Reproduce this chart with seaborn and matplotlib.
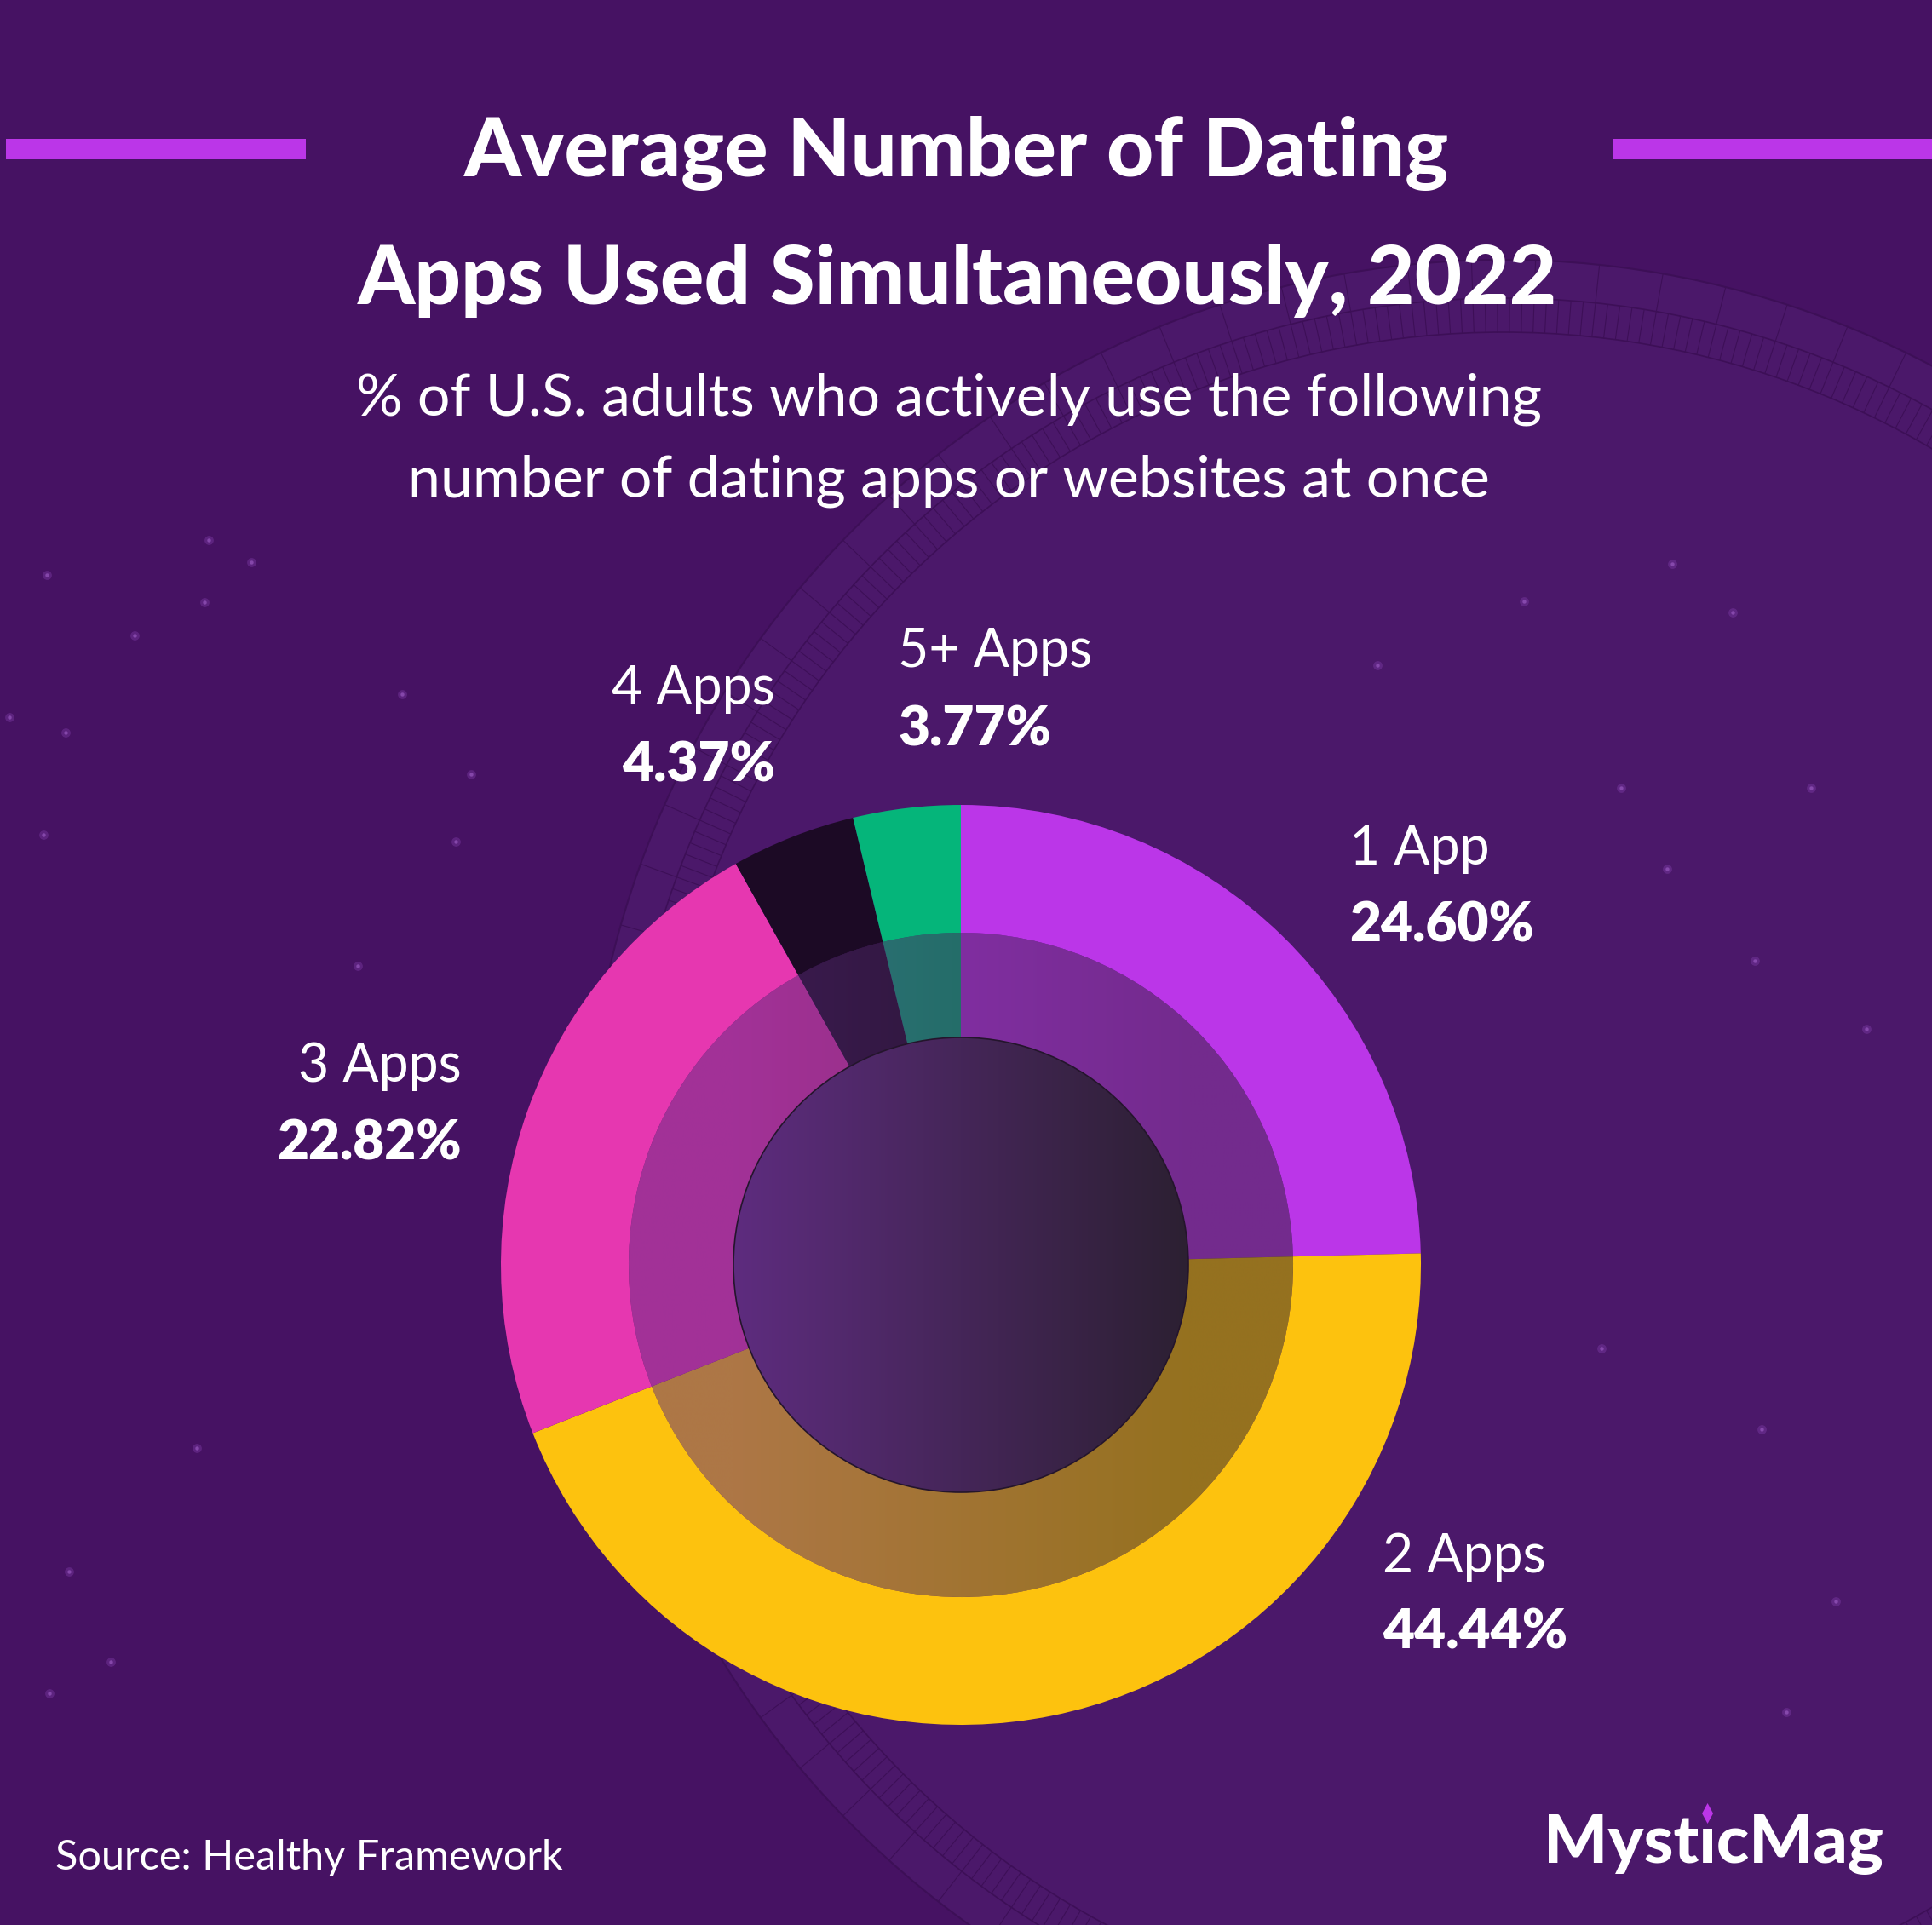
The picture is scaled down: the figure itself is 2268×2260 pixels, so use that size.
import numpy as np
import matplotlib
matplotlib.use("Agg")
import matplotlib.pyplot as plt
import seaborn as sns
from matplotlib.patches import Circle, Wedge, Rectangle, Polygon
from matplotlib.collections import LineCollection

# ---------------- data ----------------
categories = ["1 App", "2 Apps", "3 Apps", "4 Apps", "5+ Apps"]
values = [24.60, 44.44, 22.82, 4.37, 3.77]
value_labels = ["24.60%", "44.44%", "22.82%", "4.37%", "3.77%"]
slice_colors = ["#bb36e8", "#fdc20e", "#e637b0", "#1c0a25", "#05b57a"]

title_lines = ["Average Number of Dating", "Apps Used Simultaneously, 2022"]
subtitle_lines = ["% of U.S. adults who actively use the following",
                  "number of dating apps or websites at once"]
source_text = "Source: Healthy Framework"

# decorative star positions (image pixels)
star_x = [55, 295, 245, 240, 158, 472, 553, 77, 11, 51, 535, 420, 1789, 1963, 2034,
          2126, 2060, 2191, 1957, 2068, 2155, 2097, 81, 130, 58, 231, 1617, 1903, 1880]
star_y = [675, 660, 634, 707, 746, 815, 909, 860, 842, 980, 988, 1134, 706, 662, 719,
          925, 1128, 1208, 1020, 1678, 1880, 2010, 1845, 1951, 1988, 1700, 781, 925, 1583]

# ---------------- setup ----------------
W, H = 2268, 2260
BG = "#461263"
sns.set_theme(style="white")
plt.rcParams["font.family"] = ["Lato", "DejaVu Sans"]

fig = plt.figure(figsize=(W / 100, H / 100), dpi=100)
fig.patch.set_facecolor(BG)
ax = fig.add_axes([0, 0, 1, 1])
ax.set_facecolor(BG)
ax.set_xlim(0, W)
ax.set_ylim(0, H)
ax.set_aspect("equal")
ax.axis("off")


def Y(y):
    return H - y


# ---------------- decorative background circle ----------------
cxd, cyd, Rd = 1765, 1383, 1078
ax.add_patch(Circle((cxd, Y(cyd)), Rd, facecolor="#4b186a", edgecolor="#3d0f57",
                    lw=1.5, zorder=0))
for rr in (Rd - 45, Rd - 85):
    ax.add_patch(Circle((cxd, Y(cyd)), rr, facecolor="none", edgecolor="#3d0f57",
                        lw=1.2, zorder=0))
ang = np.deg2rad(np.arange(0, 360, 0.8))
segs = [[(cxd + (Rd - 85) * np.cos(a), Y(cyd) + (Rd - 85) * np.sin(a)),
         (cxd + (Rd - 45) * np.cos(a), Y(cyd) + (Rd - 45) * np.sin(a))] for a in ang]
ax.add_collection(LineCollection(segs, colors="#3d0f57", linewidths=0.8, zorder=0))
ang2 = np.deg2rad(np.arange(0, 360, 4))
segs2 = [[(cxd + (Rd - 45) * np.cos(a), Y(cyd) + (Rd - 45) * np.sin(a)),
          (cxd + Rd * np.cos(a), Y(cyd) + Rd * np.sin(a))] for a in ang2]
ax.add_collection(LineCollection(segs2, colors="#3d0f57", linewidths=0.8, zorder=0))

ax.scatter(star_x, [Y(v) for v in star_y], s=60, color="#8a45b5", alpha=0.35,
           linewidths=0, zorder=0.5)
ax.scatter(star_x, [Y(v) for v in star_y], s=10, color="#a060c8", alpha=0.6,
           linewidths=0, zorder=0.5)

# ---------------- donut ----------------
cx, cy = 1128, Y(1485)
R_out, R_mid, R_in = 540, 390, 267
ax.pie(values, colors=slice_colors, startangle=90, counterclock=False,
       radius=R_out, center=(cx, cy), frame=True,
       wedgeprops=dict(width=R_out - R_mid, linewidth=0))
ax.pie(values, colors=slice_colors, startangle=90, counterclock=False,
       radius=R_mid, center=(cx, cy), frame=True,
       wedgeprops=dict(width=R_mid - R_in, linewidth=0))

gx = np.linspace(cx - R_mid, cx + R_mid, 800)
c_left = np.array([94, 44, 127]) / 255
c_right = np.array([44, 32, 50]) / 255
t = np.clip((gx - (cx - R_in)) / (2 * R_in), 0, 1)
grad = c_left[None, :] * (1 - t[:, None]) + c_right[None, :] * t[:, None]
img = np.tile(grad[None, :, :], (2, 1, 1))
ext = [cx - R_mid, cx + R_mid, cy - R_mid, cy + R_mid]

band = Wedge((cx, cy), R_mid, 0, 360, width=R_mid - R_in, facecolor="none",
             edgecolor="none")
ax.add_patch(band)
im1 = ax.imshow(img, extent=ext, alpha=0.5, aspect="auto", zorder=3,
                interpolation="bilinear")
im1.set_clip_path(band)

disc = Circle((cx, cy), R_in, facecolor="none", edgecolor="none")
ax.add_patch(disc)
im2 = ax.imshow(img, extent=ext, aspect="auto", zorder=4, interpolation="bilinear")
im2.set_clip_path(disc)
ax.add_patch(Circle((cx, cy), R_in, facecolor="none", edgecolor="#24152c",
                    lw=1.2, zorder=5))

# ---------------- labels ----------------
label_pos = {
    "1 App": (1584, 1015, 1105, "left"),
    "2 Apps": (1623, 1846, 1935, "left"),
    "3 Apps": (542, 1270, 1361, "right"),
    "4 Apps": (910, 827, 917, "right"),
    "5+ Apps": (1054, 783, 875, "left"),
}
for cat, lab in zip(categories, value_labels):
    x, y1, y2, ha = label_pos[cat]
    ax.text(x, Y(y1), cat, color="white", fontsize=45, ha=ha, va="baseline",
            fontweight="normal", zorder=10)
    ax.text(x, Y(y2), lab, color="white", fontsize=46, ha=ha, va="baseline",
            fontweight="heavy", zorder=10)

# ---------------- titles ----------------
ax.text(1123, Y(207), title_lines[0], color="white", fontsize=69, ha="center",
        va="baseline", fontweight="black", zorder=10)
ax.text(1124, Y(357), title_lines[1], color="white", fontsize=69, ha="center",
        va="baseline", fontweight="black", zorder=10)
ax.text(1114, Y(487), subtitle_lines[0], color="white", fontsize=49, ha="center",
        va="baseline", zorder=10)
ax.text(1114, Y(583), subtitle_lines[1], color="white", fontsize=49, ha="center",
        va="baseline", zorder=10)

ax.add_patch(Rectangle((7, Y(187)), 352, 24, facecolor="#bb36e8", lw=0, zorder=2))
ax.add_patch(Rectangle((1894, Y(187)), 374, 24, facecolor="#bb36e8", lw=0, zorder=2))

# ---------------- footer ----------------
ax.text(65, Y(2195), source_text, color="white", fontsize=35, ha="left",
        va="baseline", zorder=10)

logo_x, logo_base, logo_fs = 1812, 2187, 57
ax.text(logo_x, Y(logo_base), "Myst\u0131cMag", color="white", fontsize=logo_fs,
        ha="left", va="baseline", fontweight="black", zorder=10)
# locate the dotless i to put the diamond above it
renderer = fig.canvas.get_renderer()
tmp1 = ax.text(logo_x, Y(logo_base), "Myst", fontsize=logo_fs, fontweight="black")
tmp2 = ax.text(logo_x, Y(logo_base), "Myst\u0131", fontsize=logo_fs, fontweight="black")
w1 = tmp1.get_window_extent(renderer).width
w2 = tmp2.get_window_extent(renderer).width
tmp1.remove()
tmp2.remove()
dx = logo_x + (w1 + w2) / 2.0
ax.add_patch(Polygon([(dx, Y(2117)), (dx + 6.5, Y(2129)), (dx, Y(2141)), (dx - 6.5, Y(2129))],
                     closed=True, facecolor="#bb36e8", lw=0, zorder=11))

ax.set_xlim(0, W)
ax.set_ylim(0, H)
fig.savefig("out.png", dpi=100, facecolor=BG)
